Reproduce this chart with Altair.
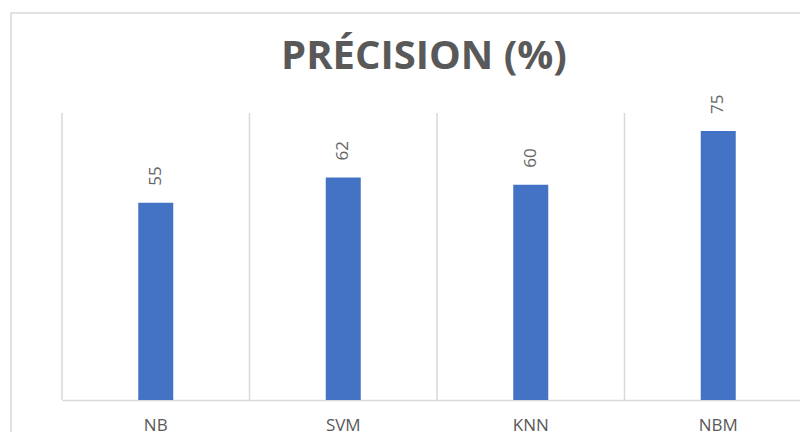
import altair as alt
import pandas as pd

models = ["NB", "SVM", "KNN", "NBM"]
precision = [55, 62, 60, 75]

df = pd.DataFrame({"model": models, "precision": precision})

GRID = "#d9d9d9"
TEXT = "#595959"
FONT = "Open Sans"

x_scale = alt.Scale(domain=models, range=[0, 750], paddingInner=0, paddingOuter=0)
y_scale = alt.Scale(domain=[0, 80])

x_axis = alt.Axis(
    labelAngle=0,
    labelFont=FONT,
    labelFontSize=17,
    labelColor=TEXT,
    labelPadding=17,
    ticks=False,
    tickSize=0,
    domainColor=GRID,
    domainWidth=1.5,
    grid=False,
    title=None,
)

base = alt.Chart(df)

border = alt.Chart(pd.DataFrame({"k": [0]})).mark_rect(
    filled=False, stroke=GRID, strokeWidth=1.5
).encode(
    x=alt.value(-51), x2=alt.value(900), y=alt.value(-100), y2=alt.value(500)
)

grid = base.mark_rule(color=GRID, strokeWidth=1.5).encode(
    x=alt.X("model:N", scale=x_scale, sort=models, bandPosition=0, axis=x_axis)
)

bars = base.mark_bar(size=35, color="#4472C4").encode(
    x=alt.X("model:N", scale=x_scale, sort=models, axis=x_axis),
    y=alt.Y("precision:Q", scale=y_scale, axis=None),
)

labels = base.mark_text(
    angle=270, align="left", baseline="middle", dx=17, fontSize=17, color="#666666", font=FONT
).encode(
    x=alt.X("model:N", scale=x_scale, sort=models, axis=x_axis),
    y=alt.Y("precision:Q", scale=y_scale, axis=None),
    text="precision:Q",
)

chart = alt.layer(border, grid, bars, labels).properties(
    width=738,
    height=287,
    autosize=alt.AutoSizeParams(type="none"),
    padding={"left": 62, "top": 113, "right": 0, "bottom": 32},
    title=alt.TitleParams(
        "PRÉCISION (%)",
        fontSize=40,
        fontWeight="bold",
        font=FONT,
        color=TEXT,
        anchor="middle",
        frame="group",
        offset=-97,
        baseline="alphabetic",
        dx=-7,
    ),
).configure_view(stroke=None)

chart.save("out.html", embed_options={"renderer": "svg", "actions": False})
